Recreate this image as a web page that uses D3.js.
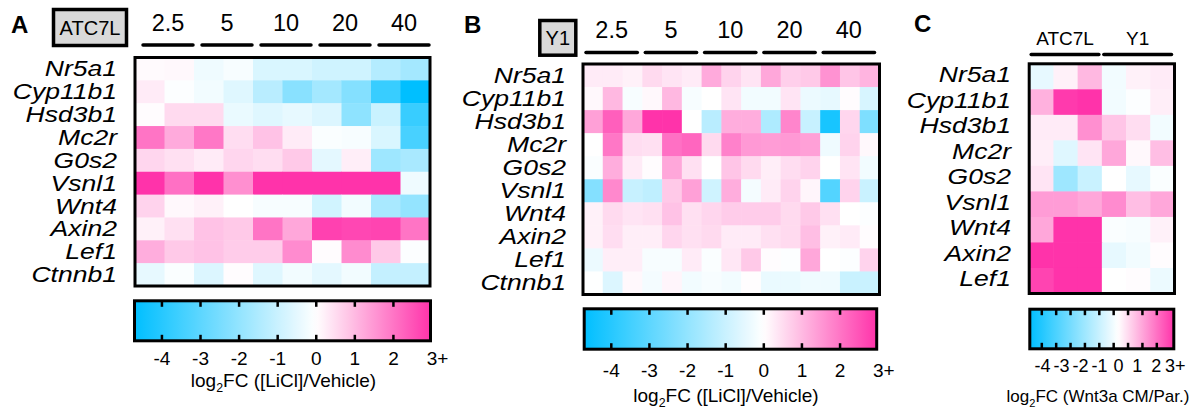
<!DOCTYPE html>
<html>
<head>
<meta charset="utf-8">
<script src="https://cdn.jsdelivr.net/npm/d3@7"></script>
<style>
  html, body { margin: 0; padding: 0; background: #fff; }
  svg { display: block; font-family: "Liberation Sans", Arial, Helvetica, sans-serif; }
</style>
</head>
<body>
<svg id="fig" width="1196" height="410"></svg>
<script>
// ---- data ---------------------------------------------------------------
const genes = ["Nr5a1", "Cyp11b1", "Hsd3b1", "Mc2r", "G0s2", "Vsnl1", "Wnt4", "Axin2", "Lef1", "Ctnnb1"];
const genesWnt = ["Nr5a1", "Cyp11b1", "Hsd3b1", "Mc2r", "G0s2", "Vsnl1", "Wnt4", "Axin2", "Lef1"];
const doses = ["2.5", "5", "10", "20", "40"];          // LiCl, mM
const cellLines = ["ATC7L", "Y1"];

// log2 fold change, LiCl vs vehicle, ATC7L (2 replicates per dose)
const liclATC7L = [
  [0.08, 0.1, -0.3, -0.15, -0.7, -0.7, -0.9, -0.9, -1.4, -1.7],
  [0.3, -0.05, -0.25, -0.6, -1.3, -2.2, -1.7, -2.3, -3.7, -4.75],
  [0.05, 0.55, 0.55, -0.4, -0.6, -0.45, -0.65, -2.1, -1.0, -3.7],
  [2.05, 1.25, 2.0, 0.5, 0.9, 0.3, -0.1, -0.15, -0.7, -3.4],
  [0.6, 0.45, 0.3, 0.6, 0.5, 0.8, -0.5, 0.25, -1.8, -1.6],
  [3, 2.1, 3, 1.65, 3, 3, 3, 3, 3, -0.3],
  [0.65, 0.1, 0.2, 0, -0.15, -0.15, -0.85, -0.25, -1.6, -2.0],
  [0.2, 0.45, 0.9, 0.8, 2.05, 1.3, 2.8, 2.7, 2.75, 2.05],
  [1.2, 0.8, 0.9, 0.75, 0.75, 1.7, 0.05, 1.7, 0.8, -0.05],
  [-0.45, -0.1, -0.65, 0.05, -0.6, -0.25, -0.5, -0.25, -1.1, -1.1]
];

// log2 fold change, LiCl vs vehicle, Y1 (3 replicates per dose)
const liclY1 = [
  [0.3, 0.3, 0.2, 0.55, 0.4, 0.3, 1.25, 0.65, 0.4, 1.3, 0.7, 0.8, 1.6, 0.85, 1.1],
  [0.1, 1.05, -0.15, 0.1, 1.05, -0.15, 0, 0.4, -0.25, -0.25, 0.4, -0.35, -0.45, 0.05, -0.75],
  [1.4, 2.35, 1.3, 3, 3, 0, -1.3, 1.2, 1.2, -1.5, 1.8, -1.05, -4.3, 0.6, -2.4],
  [0, 2.0, 0.5, 0.45, 2.1, 2.25, 0.55, 1.85, 1.5, 1.45, 1.5, 1.4, -0.3, 0.65, 0.1],
  [-0.1, 1.2, 0.3, 0.05, 1.3, 0.45, 0, 0.85, 0.55, 0.25, 0.5, 0.65, 0, 0.4, -0.25],
  [-2.3, 1.75, -1.05, -1.2, 0.8, 1.4, -0.9, 1.2, -0.2, 0.3, 0.65, 0.15, -3.2, 0.65, -1.0],
  [0.2, 0.55, 0.4, 0.45, 0.9, 0.45, 0.6, 0.75, 0.75, 0.75, 0.55, 0.8, 0.45, 0, -0.05],
  [0.2, 0.5, 0.25, 0.25, 0.6, 0.45, 0.55, 0.3, 0.3, 0.45, 0.55, 0.95, 0.2, 0.3, 0.05],
  [-0.35, 0.25, 0.25, -0.15, -0.15, 0.3, -0.1, 0.35, 0.8, 0.05, -0.05, 1.3, 0, -0.05, 0.65],
  [-0.02, -0.65, 0.1, -0.2, 0.15, -0.25, -0.15, -0.25, 0.03, -0.4, -0.4, -0.3, -0.3, -1.0, -1.0]
];

// log2 fold change, Wnt3a conditioned medium vs parental (3 replicates per line)
const wnt3a = [
  [-0.45, 0.2, 1.05, -0.25, 0.2, 0.3],
  [1.15, 2.9, 3, -0.25, -0.05, 0.25],
  [0.3, 0.3, 1.65, 0.85, 0.5, -0.25],
  [0.25, -0.6, 0.4, 1.3, 0.1, 0.95],
  [0.4, -1.8, -1.0, 0, -0.45, -0.1],
  [1.45, 1.45, 1.3, 1.7, 0.95, 1.3],
  [1.3, 3, 3, -0.1, -0.15, 0.2],
  [3, 3, 3, -0.45, -0.25, 0.05],
  [2.75, 3, 3, 0, 0.05, -0.35]
];

const scaleTicks = [-4, -3, -2, -1, 0, 1, 2, 3];
const scaleTickLabels = ["-4", "-3", "-2", "-1", "0", "1", "2", "3+"];
const fcMin = -4.75, fcMax = 3;

// ---- colour scale ----------------------------------------------------------
const color = d3.scaleLinear()
  .domain([fcMin, 0, fcMax])
  .range(["#00bfff", "#ffffff", "#ff33aa"])
  .clamp(true);

const svg = d3.select("#fig");
const defs = svg.append("defs");
const grad = defs.append("linearGradient").attr("id", "fcGradient")
  .attr("x1", "0%").attr("x2", "100%").attr("y1", "0%").attr("y2", "0%");
d3.range(0, 1.0001, 0.02).forEach(t => {
  grad.append("stop").attr("offset", (t * 100) + "%")
    .attr("stop-color", color(fcMin + t * (fcMax - fcMin)));
});

// ---- panel drawing -------------------------------------------------------
function drawPanel(p) {
  const g = svg.append("g");

  g.append("text")
    .attr("x", p.letter.x).attr("y", p.letter.y)
    .attr("font-size", 24).attr("font-weight", "bold")
    .text(p.letter.text);

  if (p.tag) {
    g.append("rect")
      .attr("x", p.tag.x).attr("y", p.tag.y)
      .attr("width", p.tag.w).attr("height", p.tag.h)
      .attr("fill", "#d9d9d9").attr("stroke", "#000").attr("stroke-width", 3.5);
    g.append("text")
      .attr("x", p.tag.x + p.tag.w / 2).attr("y", p.tag.baseline)
      .attr("text-anchor", "middle").attr("font-size", 20)
      .text(p.tag.text);
  }

  const b = p.box;
  const nCols = p.values[0].length;
  const x = d3.scaleBand().domain(d3.range(nCols)).range([b.x, b.x + b.w]);
  const y = d3.scaleBand().domain(p.rows).range([b.y, b.y + b.h]);

  const cells = p.values.flatMap((row, i) => row.map((v, j) => ({ gene: p.rows[i], col: j, v })));
  g.append("g").selectAll("rect").data(cells).join("rect")
    .attr("x", d => x(d.col))
    .attr("y", d => y(d.gene))
    .attr("width", x.bandwidth() + 0.5)
    .attr("height", y.bandwidth() + 0.5)
    .attr("fill", d => color(d.v));

  g.append("rect")
    .attr("x", b.x).attr("y", b.y).attr("width", b.w).attr("height", b.h)
    .attr("fill", "none").attr("stroke", "#000").attr("stroke-width", 3);

  // gene labels
  g.append("g").selectAll("text").data(p.rows).join("text")
    .attr("transform", d => `translate(${p.labelRight},${y(d) + y.bandwidth() / 2 + p.labelDy}) scale(1.18,1)`)
    .attr("text-anchor", "end")
    .attr("font-size", 22.5).attr("font-style", "italic")
    .text(d => d);

  // group headers with bars
  const gx = d3.scaleBand().domain(p.groups).range([b.x, b.x + b.w]);
  const hdr = g.append("g").selectAll("g").data(p.groups).join("g");
  hdr.append("line")
    .attr("x1", d => gx(d) + p.bracketInset[0])
    .attr("x2", d => gx(d) + gx.bandwidth() - p.bracketInset[1])
    .attr("y1", p.bracketY).attr("y2", p.bracketY)
    .attr("stroke", "#000").attr("stroke-width", 3.5).attr("stroke-linecap", "round");
  hdr.append("text")
    .attr("x", d => gx(d) + (gx.bandwidth() + p.bracketInset[0] - p.bracketInset[1]) / 2)
    .attr("y", p.headerY)
    .attr("text-anchor", "middle").attr("font-size", p.headerSize)
    .text(d => d);

  // colour bar
  const c = p.bar;
  const cx = d3.scaleLinear().domain([fcMin, fcMax]).range([c.x - 1.5, c.x + c.w + 1.5]);
  g.append("rect")
    .attr("x", c.x).attr("y", c.y).attr("width", c.w).attr("height", c.h)
    .attr("fill", "url(#fcGradient)");
  const tickXs = p.barTicks ? p.barTicks(c) : scaleTicks.filter(t => t < fcMax).map(t => cx(t));
  const tk = g.append("g").attr("stroke", "#000").attr("stroke-width", 2.5);
  tickXs.forEach(tx => {
    tk.append("line").attr("x1", tx).attr("x2", tx).attr("y1", c.y).attr("y2", c.y + 6);
    tk.append("line").attr("x1", tx).attr("x2", tx).attr("y1", c.y + c.h - 6).attr("y2", c.y + c.h);
  });
  g.append("rect")
    .attr("x", c.x).attr("y", c.y).attr("width", c.w).attr("height", c.h)
    .attr("fill", "none").attr("stroke", "#000").attr("stroke-width", 3);

  g.append("g").selectAll("text").data(scaleTicks).join("text")
    .attr("x", d => cx(d))
    .attr("y", c.labelY)
    .attr("text-anchor", (d, i) => (i === scaleTicks.length - 1 && !p.centerLast) ? "start" : "middle")
    .attr("dx", (d, i) => (i === scaleTicks.length - 1 && !p.centerLast) ? "-0.28em" : 0)
    .attr("font-size", c.labelSize)
    .text((d, i) => scaleTickLabels[i]);

  const title = g.append("text")
    .attr("x", c.titleX).attr("y", c.titleY)
    .attr("text-anchor", "middle").attr("font-size", c.titleSize);
  title.append("tspan").text("log");
  title.append("tspan").attr("font-size", c.titleSize * 0.65).attr("dy", c.titleSize * 0.28).text("2");
  title.append("tspan").attr("dy", -c.titleSize * 0.28).text(p.titleRest);
}

drawPanel({
  letter: { text: "A", x: 11, y: 33 },
  tag: { text: "ATC7L", x: 53.5, y: 9.5, w: 73, h: 36, baseline: 35 },
  box: { x: 135, y: 57.5, w: 295, h: 228.5 },
  rows: genes, values: liclATC7L, groups: doses,
  labelRight: 117, labelDy: 7.5,
  headerY: 31, headerSize: 23.5, bracketY: 45, bracketInset: [8, 1],
  bar: { x: 134.5, y: 300.8, w: 296, h: 40, labelY: 365, labelSize: 19, titleX: 283.5, titleY: 387, titleSize: 19 },
  titleRest: "FC ([LiCl]/Vehicle)"
});

drawPanel({
  letter: { text: "B", x: 464, y: 33 },
  tag: { text: "Y1", x: 539.8, y: 20.5, w: 36, h: 34.7, baseline: 45 },
  box: { x: 583, y: 64, w: 296.5, h: 230.5 },
  rows: genes, values: liclY1, groups: doses,
  labelRight: 566, labelDy: 7.5,
  headerY: 37.5, headerSize: 23.5, bracketY: 52.5, bracketInset: [3, 5],
  bar: { x: 584.2, y: 308.8, w: 292.5, h: 40.4, labelY: 377, labelSize: 19, titleX: 726, titleY: 402, titleSize: 19 },
  titleRest: "FC ([LiCl]/Vehicle)"
});

drawPanel({
  letter: { text: "C", x: 914, y: 32 },
  box: { x: 1029.2, y: 63.8, w: 145.3, h: 229.7 },
  rows: genesWnt, values: wnt3a, groups: cellLines,
  labelRight: 1011, labelDy: 5.5,
  headerY: 45, headerSize: 19, bracketY: 54.5, bracketInset: [2, 3],
  bar: { x: 1029.8, y: 309.2, w: 144, h: 39.6, labelY: 372, labelSize: 18, titleX: 1098, titleY: 402, titleSize: 17 },
  barTicks: c => d3.range(9).map(d3.scaleLinear().domain([0, 8]).range([c.x + 12, c.x + 127])),
  centerLast: true,
  titleRest: "FC (Wnt3a CM/Par.)"
});
</script>
</body>
</html>
